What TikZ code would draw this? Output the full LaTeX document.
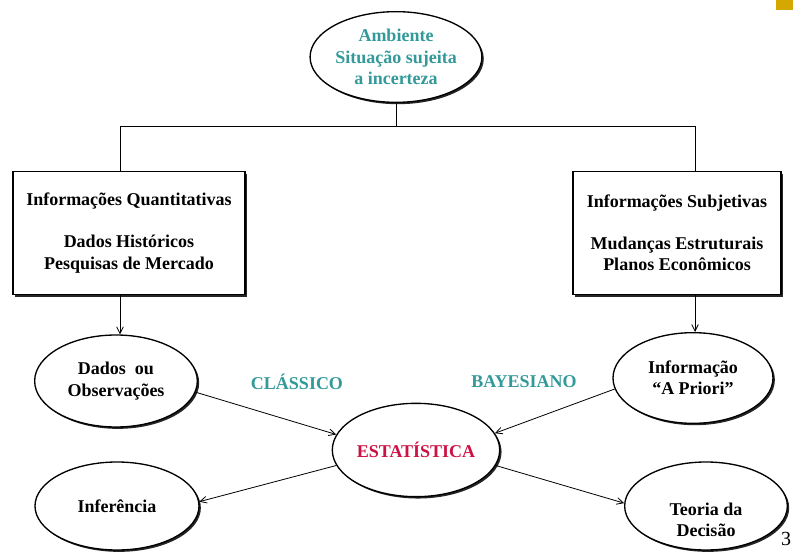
\documentclass[tikz,border=0pt]{standalone}
\usepackage{fontspec}
\setmainfont{Liberation Serif}
\usepackage{tikz}
\usetikzlibrary{shapes.geometric,shadows,arrows.meta}
\definecolor{verdeazul}{RGB}{51,153,153}
\definecolor{carmim}{RGB}{204,17,68}
\definecolor{ouro}{RGB}{212,168,0}

\begin{document}
\begin{tikzpicture}[x=0.75pt,y=-0.75pt,
		every node/.style={font=\fontsize{13.5}{16}\selectfont\bfseries, align=center},
		elipse/.style={ellipse, draw, line width=1pt, fill=white, inner sep=0pt,
			minimum width=122pt, minimum height=68pt,
			drop shadow={shadow xshift=1.4pt, shadow yshift=-1.4pt, fill=black!85, opacity=1}},
		caixa/.style={rectangle, draw, line width=1.2pt, fill=white, inner sep=0pt,
			minimum height=92pt,
			drop shadow={shadow xshift=1.8pt, shadow yshift=-1.8pt, fill=black!85, opacity=1}},
		seta/.style={-{Straight Barb[length=5pt,width=5pt]}, line width=0.6pt},
		linha/.style={line width=0.6pt}]
		\useasboundingbox (0,0) rectangle (793,552);
		\fill [ouro] (776,0) rectangle (793,10);
		% nos
		\node [elipse, minimum width=123pt, text=verdeazul] (amb) at (396,57) {Ambiente\\Situação sujeita\\a incerteza};
		\node [caixa, minimum width=174pt] (quant) at (129,233) {Informações Quantitativas\\[15.5pt]Dados Históricos\\Pesquisas de Mercado};
		\node [caixa, minimum width=156pt] (subj) at (677,233) {Informações Subjetivas\\[15.5pt]Mudanças Estruturais\\Planos Econômicos};
		\node [elipse, minimum height=69pt] (dados) at (116,381) {Dados~ ou\\Observações};
		\node [elipse, minimum width=120pt] (apriori) at (693,378) {Informação\\``A Priori''};
		\node [elipse, minimum height=70pt, text=carmim] (estat) at (416,450) {ESTATÍSTICA};
		\node [elipse, minimum width=123pt, minimum height=66pt] (infer) at (117,506) {Inferência};
		\node [elipse, minimum height=66pt] (teoria) at (706,506) {};
		\node (teoriatxt) at (706,520) {Teoria da\\Decisão};
		\node [text=verdeazul] (classico) at (297,382) {CLÁSSICO};
		\node [text=verdeazul] (bayes) at (524,382) {BAYESIANO};
		\node [font=\fontsize{15}{16}\selectfont] (pagina) at (786,539) {3};
		% ligacoes
		\coordinate (busL) at (120,126);
		\coordinate (busR) at (695,126);
		\draw [linha] (amb.south) -- (amb.south |- busL);
		\draw [linha] (busL) -- (busR);
		\draw [linha] (busL) -- (busL |- quant.north);
		\draw [linha] (busR) -- (busR |- subj.north);
		\draw [seta] (busL |- quant.south) -- (busL |- dados.north);
		\draw [seta] (busR |- subj.south) -- (busR |- apriori.north);
		\draw [seta] (dados.352) -- (estat.169);
		\draw [seta] (apriori.188) -- (estat.12);
		\draw [seta] (estat.191) -- (infer.3);
		\draw [seta] (estat.349) -- (teoria.178);
	\end{tikzpicture}
\end{document}
